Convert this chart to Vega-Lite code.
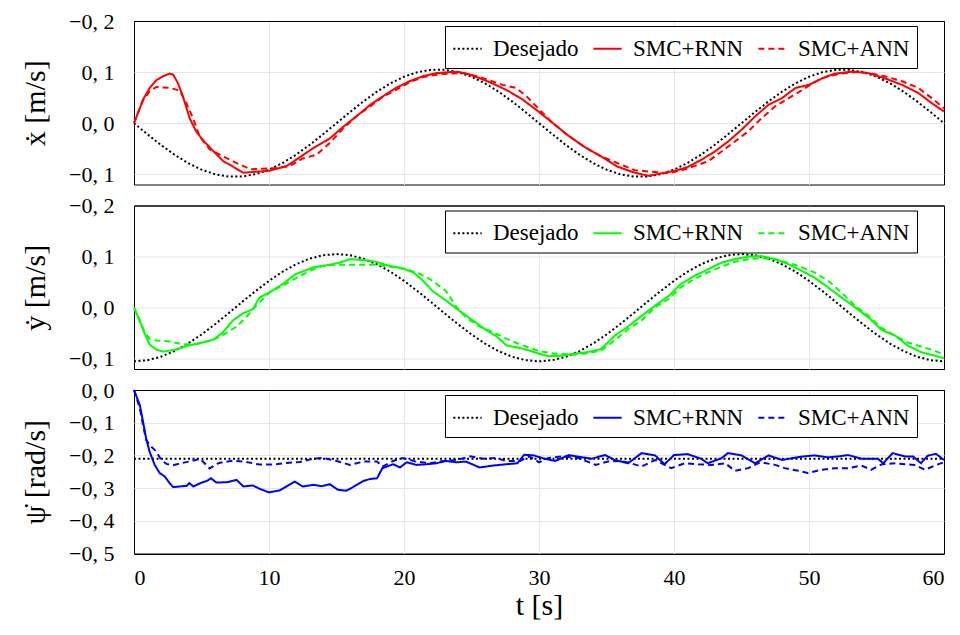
{
  "$schema": "https://vega.github.io/schema/vega-lite/v6.json",
  "padding": {"left": 20, "top": 9, "right": 4, "bottom": 8},
  "background": "#ffffff",
  "config": {
    "font": "Liberation Serif",
    "view": {"stroke": "#000000", "strokeWidth": 1},
    "axis": {"labelFont": "Liberation Serif", "labelFontSize": 22, "labelColor": "#000000", "titleFont": "Liberation Serif", "titleFontWeight": "normal", "titleColor": "#000000", "titleFontSize": 30, "gridColor": "#e6e6e6", "gridWidth": 1, "domain": false, "ticks": false},
    "line": {"strokeWidth": 2}
  },
  "datasets": {
    "vx": [
      {"t":0,"v":0,"s":"Desejado"},{"t":1,"v":-0.0218,"s":"Desejado"},{"t":2,"v":-0.0427,"s":"Desejado"},{"t":3,"v":-0.0617,"s":"Desejado"},{"t":4,"v":-0.078,"s":"Desejado"},{"t":5,"v":-0.0909,"s":"Desejado"},{"t":6,"v":-0.0999,"s":"Desejado"},{"t":7,"v":-0.1044,"s":"Desejado"},{"t":8,"v":-0.1044,"s":"Desejado"},{"t":9,"v":-0.0999,"s":"Desejado"},{"t":10,"v":-0.0909,"s":"Desejado"},{"t":11,"v":-0.078,"s":"Desejado"},{"t":12,"v":-0.0617,"s":"Desejado"},{"t":13,"v":-0.0427,"s":"Desejado"},{"t":14,"v":-0.0218,"s":"Desejado"},{"t":15,"v":0,"s":"Desejado"},{"t":16,"v":0.0218,"s":"Desejado"},{"t":17,"v":0.0427,"s":"Desejado"},{"t":18,"v":0.0617,"s":"Desejado"},{"t":19,"v":0.078,"s":"Desejado"},{"t":20,"v":0.0909,"s":"Desejado"},{"t":21,"v":0.0999,"s":"Desejado"},{"t":22,"v":0.1044,"s":"Desejado"},{"t":23,"v":0.1044,"s":"Desejado"},{"t":24,"v":0.0999,"s":"Desejado"},{"t":25,"v":0.0909,"s":"Desejado"},{"t":26,"v":0.078,"s":"Desejado"},{"t":27,"v":0.0617,"s":"Desejado"},{"t":28,"v":0.0427,"s":"Desejado"},{"t":29,"v":0.0218,"s":"Desejado"},{"t":30,"v":0,"s":"Desejado"},{"t":31,"v":-0.0218,"s":"Desejado"},{"t":32,"v":-0.0427,"s":"Desejado"},{"t":33,"v":-0.0617,"s":"Desejado"},{"t":34,"v":-0.078,"s":"Desejado"},{"t":35,"v":-0.0909,"s":"Desejado"},{"t":36,"v":-0.0999,"s":"Desejado"},{"t":37,"v":-0.1044,"s":"Desejado"},{"t":38,"v":-0.1044,"s":"Desejado"},{"t":39,"v":-0.0999,"s":"Desejado"},{"t":40,"v":-0.0909,"s":"Desejado"},{"t":41,"v":-0.078,"s":"Desejado"},{"t":42,"v":-0.0617,"s":"Desejado"},{"t":43,"v":-0.0427,"s":"Desejado"},{"t":44,"v":-0.0218,"s":"Desejado"},{"t":45,"v":0,"s":"Desejado"},{"t":46,"v":0.0218,"s":"Desejado"},{"t":47,"v":0.0427,"s":"Desejado"},{"t":48,"v":0.0617,"s":"Desejado"},{"t":49,"v":0.078,"s":"Desejado"},{"t":50,"v":0.0909,"s":"Desejado"},{"t":51,"v":0.0999,"s":"Desejado"},{"t":52,"v":0.1044,"s":"Desejado"},{"t":53,"v":0.1044,"s":"Desejado"},{"t":54,"v":0.0999,"s":"Desejado"},{"t":55,"v":0.0909,"s":"Desejado"},{"t":56,"v":0.078,"s":"Desejado"},{"t":57,"v":0.0617,"s":"Desejado"},{"t":58,"v":0.0427,"s":"Desejado"},{"t":59,"v":0.0218,"s":"Desejado"},{"t":60,"v":0,"s":"Desejado"},
      {"t":0,"v":0,"s":"SMC+RNN"},{"t":0.67,"v":0.046,"s":"SMC+RNN"},{"t":1.16,"v":0.069,"s":"SMC+RNN"},{"t":1.65,"v":0.084,"s":"SMC+RNN"},{"t":2.15,"v":0.092,"s":"SMC+RNN"},{"t":2.64,"v":0.097,"s":"SMC+RNN"},{"t":2.9,"v":0.095,"s":"SMC+RNN"},{"t":3.26,"v":0.078,"s":"SMC+RNN"},{"t":3.63,"v":0.052,"s":"SMC+RNN"},{"t":4.12,"v":0.01,"s":"SMC+RNN"},{"t":4.6,"v":-0.016,"s":"SMC+RNN"},{"t":5.1,"v":-0.033,"s":"SMC+RNN"},{"t":5.85,"v":-0.054,"s":"SMC+RNN"},{"t":6.6,"v":-0.074,"s":"SMC+RNN"},{"t":7.33,"v":-0.085,"s":"SMC+RNN"},{"t":8.07,"v":-0.097,"s":"SMC+RNN"},{"t":9.06,"v":-0.095,"s":"SMC+RNN"},{"t":10.05,"v":-0.093,"s":"SMC+RNN"},{"t":11.3,"v":-0.084,"s":"SMC+RNN"},{"t":12.27,"v":-0.067,"s":"SMC+RNN"},{"t":13.26,"v":-0.049,"s":"SMC+RNN"},{"t":14.5,"v":-0.03,"s":"SMC+RNN"},{"t":15.5,"v":-0.007,"s":"SMC+RNN"},{"t":16.5,"v":0.014,"s":"SMC+RNN"},{"t":17.5,"v":0.036,"s":"SMC+RNN"},{"t":18.4,"v":0.052,"s":"SMC+RNN"},{"t":19.4,"v":0.069,"s":"SMC+RNN"},{"t":20.4,"v":0.082,"s":"SMC+RNN"},{"t":21.4,"v":0.092,"s":"SMC+RNN"},{"t":22.4,"v":0.098,"s":"SMC+RNN"},{"t":23.4,"v":0.1,"s":"SMC+RNN"},{"t":24.1,"v":0.1,"s":"SMC+RNN"},{"t":24.9,"v":0.095,"s":"SMC+RNN"},{"t":25.9,"v":0.085,"s":"SMC+RNN"},{"t":26.8,"v":0.075,"s":"SMC+RNN"},{"t":27.8,"v":0.062,"s":"SMC+RNN"},{"t":28.8,"v":0.046,"s":"SMC+RNN"},{"t":29.8,"v":0.026,"s":"SMC+RNN"},{"t":30.9,"v":0.003,"s":"SMC+RNN"},{"t":32.1,"v":-0.023,"s":"SMC+RNN"},{"t":33.4,"v":-0.047,"s":"SMC+RNN"},{"t":34.6,"v":-0.065,"s":"SMC+RNN"},{"t":35.8,"v":-0.085,"s":"SMC+RNN"},{"t":37.1,"v":-0.097,"s":"SMC+RNN"},{"t":38.1,"v":-0.103,"s":"SMC+RNN"},{"t":39.1,"v":-0.098,"s":"SMC+RNN"},{"t":40.1,"v":-0.093,"s":"SMC+RNN"},{"t":41,"v":-0.086,"s":"SMC+RNN"},{"t":42,"v":-0.072,"s":"SMC+RNN"},{"t":43,"v":-0.056,"s":"SMC+RNN"},{"t":44,"v":-0.036,"s":"SMC+RNN"},{"t":45,"v":-0.013,"s":"SMC+RNN"},{"t":46,"v":0.013,"s":"SMC+RNN"},{"t":47,"v":0.036,"s":"SMC+RNN"},{"t":48,"v":0.049,"s":"SMC+RNN"},{"t":49,"v":0.069,"s":"SMC+RNN"},{"t":50,"v":0.075,"s":"SMC+RNN"},{"t":51,"v":0.088,"s":"SMC+RNN"},{"t":51.9,"v":0.097,"s":"SMC+RNN"},{"t":53.2,"v":0.101,"s":"SMC+RNN"},{"t":54.4,"v":0.098,"s":"SMC+RNN"},{"t":55.6,"v":0.088,"s":"SMC+RNN"},{"t":56.9,"v":0.075,"s":"SMC+RNN"},{"t":58.1,"v":0.059,"s":"SMC+RNN"},{"t":59.1,"v":0.039,"s":"SMC+RNN"},{"t":60,"v":0.023,"s":"SMC+RNN"},
      {"t":0,"v":0,"s":"SMC+ANN"},{"t":0.67,"v":0.045,"s":"SMC+ANN"},{"t":1.16,"v":0.062,"s":"SMC+ANN"},{"t":1.65,"v":0.071,"s":"SMC+ANN"},{"t":2.64,"v":0.069,"s":"SMC+ANN"},{"t":3.38,"v":0.064,"s":"SMC+ANN"},{"t":3.88,"v":0.039,"s":"SMC+ANN"},{"t":4.37,"v":0.01,"s":"SMC+ANN"},{"t":4.86,"v":-0.026,"s":"SMC+ANN"},{"t":5.6,"v":-0.051,"s":"SMC+ANN"},{"t":6.6,"v":-0.065,"s":"SMC+ANN"},{"t":7.6,"v":-0.078,"s":"SMC+ANN"},{"t":8.6,"v":-0.09,"s":"SMC+ANN"},{"t":9.56,"v":-0.089,"s":"SMC+ANN"},{"t":10.5,"v":-0.088,"s":"SMC+ANN"},{"t":11.5,"v":-0.084,"s":"SMC+ANN"},{"t":12.5,"v":-0.069,"s":"SMC+ANN"},{"t":13.5,"v":-0.062,"s":"SMC+ANN"},{"t":14.5,"v":-0.039,"s":"SMC+ANN"},{"t":15.5,"v":-0.01,"s":"SMC+ANN"},{"t":16.5,"v":0.014,"s":"SMC+ANN"},{"t":17.5,"v":0.033,"s":"SMC+ANN"},{"t":18.4,"v":0.051,"s":"SMC+ANN"},{"t":19.4,"v":0.065,"s":"SMC+ANN"},{"t":20.4,"v":0.08,"s":"SMC+ANN"},{"t":21.4,"v":0.09,"s":"SMC+ANN"},{"t":22.4,"v":0.095,"s":"SMC+ANN"},{"t":23.4,"v":0.097,"s":"SMC+ANN"},{"t":24.4,"v":0.098,"s":"SMC+ANN"},{"t":25.4,"v":0.092,"s":"SMC+ANN"},{"t":26.3,"v":0.084,"s":"SMC+ANN"},{"t":27.3,"v":0.075,"s":"SMC+ANN"},{"t":28.3,"v":0.069,"s":"SMC+ANN"},{"t":29.1,"v":0.052,"s":"SMC+ANN"},{"t":29.8,"v":0.033,"s":"SMC+ANN"},{"t":30.9,"v":0.003,"s":"SMC+ANN"},{"t":32.1,"v":-0.023,"s":"SMC+ANN"},{"t":33.4,"v":-0.047,"s":"SMC+ANN"},{"t":34.6,"v":-0.065,"s":"SMC+ANN"},{"t":35.8,"v":-0.078,"s":"SMC+ANN"},{"t":37.1,"v":-0.092,"s":"SMC+ANN"},{"t":38.3,"v":-0.095,"s":"SMC+ANN"},{"t":39.6,"v":-0.098,"s":"SMC+ANN"},{"t":40.6,"v":-0.092,"s":"SMC+ANN"},{"t":41.5,"v":-0.084,"s":"SMC+ANN"},{"t":42.5,"v":-0.075,"s":"SMC+ANN"},{"t":43.5,"v":-0.056,"s":"SMC+ANN"},{"t":44.5,"v":-0.036,"s":"SMC+ANN"},{"t":45.5,"v":-0.016,"s":"SMC+ANN"},{"t":46.5,"v":0.01,"s":"SMC+ANN"},{"t":47.5,"v":0.033,"s":"SMC+ANN"},{"t":48.5,"v":0.049,"s":"SMC+ANN"},{"t":49.5,"v":0.065,"s":"SMC+ANN"},{"t":50.5,"v":0.082,"s":"SMC+ANN"},{"t":51.4,"v":0.092,"s":"SMC+ANN"},{"t":52.4,"v":0.097,"s":"SMC+ANN"},{"t":53.4,"v":0.1,"s":"SMC+ANN"},{"t":54.4,"v":0.098,"s":"SMC+ANN"},{"t":55.6,"v":0.092,"s":"SMC+ANN"},{"t":56.9,"v":0.082,"s":"SMC+ANN"},{"t":58.1,"v":0.069,"s":"SMC+ANN"},{"t":59.1,"v":0.049,"s":"SMC+ANN"},{"t":60,"v":0.029,"s":"SMC+ANN"}
    ],
    "vy": [
      {"t":0,"v":-0.105,"s":"Desejado"},{"t":1,"v":-0.1027,"s":"Desejado"},{"t":2,"v":-0.0959,"s":"Desejado"},{"t":3,"v":-0.0849,"s":"Desejado"},{"t":4,"v":-0.0703,"s":"Desejado"},{"t":5,"v":-0.0525,"s":"Desejado"},{"t":6,"v":-0.0324,"s":"Desejado"},{"t":7,"v":-0.011,"s":"Desejado"},{"t":8,"v":0.011,"s":"Desejado"},{"t":9,"v":0.0324,"s":"Desejado"},{"t":10,"v":0.0525,"s":"Desejado"},{"t":11,"v":0.0703,"s":"Desejado"},{"t":12,"v":0.0849,"s":"Desejado"},{"t":13,"v":0.0959,"s":"Desejado"},{"t":14,"v":0.1027,"s":"Desejado"},{"t":15,"v":0.105,"s":"Desejado"},{"t":16,"v":0.1027,"s":"Desejado"},{"t":17,"v":0.0959,"s":"Desejado"},{"t":18,"v":0.0849,"s":"Desejado"},{"t":19,"v":0.0703,"s":"Desejado"},{"t":20,"v":0.0525,"s":"Desejado"},{"t":21,"v":0.0324,"s":"Desejado"},{"t":22,"v":0.011,"s":"Desejado"},{"t":23,"v":-0.011,"s":"Desejado"},{"t":24,"v":-0.0324,"s":"Desejado"},{"t":25,"v":-0.0525,"s":"Desejado"},{"t":26,"v":-0.0703,"s":"Desejado"},{"t":27,"v":-0.0849,"s":"Desejado"},{"t":28,"v":-0.0959,"s":"Desejado"},{"t":29,"v":-0.1027,"s":"Desejado"},{"t":30,"v":-0.105,"s":"Desejado"},{"t":31,"v":-0.1027,"s":"Desejado"},{"t":32,"v":-0.0959,"s":"Desejado"},{"t":33,"v":-0.0849,"s":"Desejado"},{"t":34,"v":-0.0703,"s":"Desejado"},{"t":35,"v":-0.0525,"s":"Desejado"},{"t":36,"v":-0.0324,"s":"Desejado"},{"t":37,"v":-0.011,"s":"Desejado"},{"t":38,"v":0.011,"s":"Desejado"},{"t":39,"v":0.0324,"s":"Desejado"},{"t":40,"v":0.0525,"s":"Desejado"},{"t":41,"v":0.0703,"s":"Desejado"},{"t":42,"v":0.0849,"s":"Desejado"},{"t":43,"v":0.0959,"s":"Desejado"},{"t":44,"v":0.1027,"s":"Desejado"},{"t":45,"v":0.105,"s":"Desejado"},{"t":46,"v":0.1027,"s":"Desejado"},{"t":47,"v":0.0959,"s":"Desejado"},{"t":48,"v":0.0849,"s":"Desejado"},{"t":49,"v":0.0703,"s":"Desejado"},{"t":50,"v":0.0525,"s":"Desejado"},{"t":51,"v":0.0324,"s":"Desejado"},{"t":52,"v":0.011,"s":"Desejado"},{"t":53,"v":-0.011,"s":"Desejado"},{"t":54,"v":-0.0324,"s":"Desejado"},{"t":55,"v":-0.0525,"s":"Desejado"},{"t":56,"v":-0.0703,"s":"Desejado"},{"t":57,"v":-0.0849,"s":"Desejado"},{"t":58,"v":-0.0959,"s":"Desejado"},{"t":59,"v":-0.1027,"s":"Desejado"},{"t":60,"v":-0.105,"s":"Desejado"},
      {"t":0,"v":0,"s":"SMC+RNN"},{"t":0.42,"v":-0.025,"s":"SMC+RNN"},{"t":0.79,"v":-0.051,"s":"SMC+RNN"},{"t":1.16,"v":-0.072,"s":"SMC+RNN"},{"t":1.65,"v":-0.082,"s":"SMC+RNN"},{"t":2.15,"v":-0.086,"s":"SMC+RNN"},{"t":2.64,"v":-0.084,"s":"SMC+RNN"},{"t":3.14,"v":-0.082,"s":"SMC+RNN"},{"t":3.88,"v":-0.075,"s":"SMC+RNN"},{"t":4.62,"v":-0.071,"s":"SMC+RNN"},{"t":5.85,"v":-0.063,"s":"SMC+RNN"},{"t":6.6,"v":-0.048,"s":"SMC+RNN"},{"t":7.33,"v":-0.025,"s":"SMC+RNN"},{"t":8.07,"v":-0.011,"s":"SMC+RNN"},{"t":8.8,"v":-0.003,"s":"SMC+RNN"},{"t":9.3,"v":0.02,"s":"SMC+RNN"},{"t":10.05,"v":0.03,"s":"SMC+RNN"},{"t":11,"v":0.046,"s":"SMC+RNN"},{"t":12,"v":0.066,"s":"SMC+RNN"},{"t":13.3,"v":0.079,"s":"SMC+RNN"},{"t":14.5,"v":0.084,"s":"SMC+RNN"},{"t":15.2,"v":0.088,"s":"SMC+RNN"},{"t":16,"v":0.095,"s":"SMC+RNN"},{"t":17,"v":0.093,"s":"SMC+RNN"},{"t":17.9,"v":0.09,"s":"SMC+RNN"},{"t":18.9,"v":0.082,"s":"SMC+RNN"},{"t":19.9,"v":0.077,"s":"SMC+RNN"},{"t":20.7,"v":0.069,"s":"SMC+RNN"},{"t":21.4,"v":0.053,"s":"SMC+RNN"},{"t":22.1,"v":0.033,"s":"SMC+RNN"},{"t":23.1,"v":0.014,"s":"SMC+RNN"},{"t":24.1,"v":-0.006,"s":"SMC+RNN"},{"t":25.1,"v":-0.025,"s":"SMC+RNN"},{"t":26.1,"v":-0.044,"s":"SMC+RNN"},{"t":26.8,"v":-0.055,"s":"SMC+RNN"},{"t":27.6,"v":-0.074,"s":"SMC+RNN"},{"t":28.6,"v":-0.079,"s":"SMC+RNN"},{"t":29.3,"v":-0.084,"s":"SMC+RNN"},{"t":30,"v":-0.09,"s":"SMC+RNN"},{"t":30.7,"v":-0.095,"s":"SMC+RNN"},{"t":31.7,"v":-0.094,"s":"SMC+RNN"},{"t":32.6,"v":-0.09,"s":"SMC+RNN"},{"t":33.6,"v":-0.087,"s":"SMC+RNN"},{"t":34.6,"v":-0.081,"s":"SMC+RNN"},{"t":35.6,"v":-0.055,"s":"SMC+RNN"},{"t":36.6,"v":-0.037,"s":"SMC+RNN"},{"t":37.6,"v":-0.016,"s":"SMC+RNN"},{"t":38.6,"v":0.004,"s":"SMC+RNN"},{"t":39.6,"v":0.023,"s":"SMC+RNN"},{"t":40.5,"v":0.046,"s":"SMC+RNN"},{"t":41.5,"v":0.062,"s":"SMC+RNN"},{"t":42.5,"v":0.075,"s":"SMC+RNN"},{"t":43.5,"v":0.088,"s":"SMC+RNN"},{"t":44.5,"v":0.095,"s":"SMC+RNN"},{"t":45.5,"v":0.1,"s":"SMC+RNN"},{"t":46.5,"v":0.101,"s":"SMC+RNN"},{"t":47.5,"v":0.095,"s":"SMC+RNN"},{"t":48.4,"v":0.086,"s":"SMC+RNN"},{"t":49.4,"v":0.073,"s":"SMC+RNN"},{"t":50.4,"v":0.059,"s":"SMC+RNN"},{"t":51.4,"v":0.04,"s":"SMC+RNN"},{"t":52.4,"v":0.02,"s":"SMC+RNN"},{"t":53.4,"v":0.001,"s":"SMC+RNN"},{"t":54.4,"v":-0.019,"s":"SMC+RNN"},{"t":55.4,"v":-0.044,"s":"SMC+RNN"},{"t":56.4,"v":-0.055,"s":"SMC+RNN"},{"t":57.3,"v":-0.074,"s":"SMC+RNN"},{"t":58.3,"v":-0.087,"s":"SMC+RNN"},{"t":59.3,"v":-0.094,"s":"SMC+RNN"},{"t":60,"v":-0.099,"s":"SMC+RNN"},
      {"t":0,"v":0,"s":"SMC+ANN"},{"t":0.42,"v":-0.025,"s":"SMC+ANN"},{"t":0.79,"v":-0.048,"s":"SMC+ANN"},{"t":1.16,"v":-0.061,"s":"SMC+ANN"},{"t":1.65,"v":-0.064,"s":"SMC+ANN"},{"t":2.64,"v":-0.066,"s":"SMC+ANN"},{"t":3.63,"v":-0.072,"s":"SMC+ANN"},{"t":4.62,"v":-0.071,"s":"SMC+ANN"},{"t":5.85,"v":-0.063,"s":"SMC+ANN"},{"t":6.6,"v":-0.053,"s":"SMC+ANN"},{"t":7.6,"v":-0.037,"s":"SMC+ANN"},{"t":8.3,"v":-0.019,"s":"SMC+ANN"},{"t":9.06,"v":0.004,"s":"SMC+ANN"},{"t":10.05,"v":0.03,"s":"SMC+ANN"},{"t":11,"v":0.043,"s":"SMC+ANN"},{"t":12,"v":0.058,"s":"SMC+ANN"},{"t":13,"v":0.072,"s":"SMC+ANN"},{"t":14,"v":0.082,"s":"SMC+ANN"},{"t":15,"v":0.084,"s":"SMC+ANN"},{"t":16,"v":0.084,"s":"SMC+ANN"},{"t":17,"v":0.084,"s":"SMC+ANN"},{"t":18,"v":0.084,"s":"SMC+ANN"},{"t":19,"v":0.08,"s":"SMC+ANN"},{"t":20.2,"v":0.075,"s":"SMC+ANN"},{"t":21.2,"v":0.066,"s":"SMC+ANN"},{"t":22.1,"v":0.053,"s":"SMC+ANN"},{"t":23.1,"v":0.033,"s":"SMC+ANN"},{"t":23.9,"v":0.001,"s":"SMC+ANN"},{"t":24.6,"v":-0.019,"s":"SMC+ANN"},{"t":25.6,"v":-0.037,"s":"SMC+ANN"},{"t":26.6,"v":-0.048,"s":"SMC+ANN"},{"t":27.6,"v":-0.061,"s":"SMC+ANN"},{"t":28.6,"v":-0.072,"s":"SMC+ANN"},{"t":29.3,"v":-0.078,"s":"SMC+ANN"},{"t":30,"v":-0.085,"s":"SMC+ANN"},{"t":31.2,"v":-0.09,"s":"SMC+ANN"},{"t":32.6,"v":-0.092,"s":"SMC+ANN"},{"t":33.6,"v":-0.089,"s":"SMC+ANN"},{"t":34.6,"v":-0.084,"s":"SMC+ANN"},{"t":35.6,"v":-0.064,"s":"SMC+ANN"},{"t":36.6,"v":-0.042,"s":"SMC+ANN"},{"t":37.6,"v":-0.025,"s":"SMC+ANN"},{"t":38.6,"v":0.001,"s":"SMC+ANN"},{"t":39.6,"v":0.017,"s":"SMC+ANN"},{"t":40.5,"v":0.04,"s":"SMC+ANN"},{"t":41.5,"v":0.056,"s":"SMC+ANN"},{"t":42.5,"v":0.069,"s":"SMC+ANN"},{"t":43.5,"v":0.08,"s":"SMC+ANN"},{"t":44.5,"v":0.09,"s":"SMC+ANN"},{"t":45.5,"v":0.095,"s":"SMC+ANN"},{"t":46.5,"v":0.097,"s":"SMC+ANN"},{"t":47.5,"v":0.095,"s":"SMC+ANN"},{"t":48.4,"v":0.088,"s":"SMC+ANN"},{"t":49.4,"v":0.08,"s":"SMC+ANN"},{"t":50.4,"v":0.069,"s":"SMC+ANN"},{"t":51.4,"v":0.053,"s":"SMC+ANN"},{"t":52.4,"v":0.03,"s":"SMC+ANN"},{"t":53.4,"v":0.004,"s":"SMC+ANN"},{"t":54.4,"v":-0.016,"s":"SMC+ANN"},{"t":55.4,"v":-0.04,"s":"SMC+ANN"},{"t":56.4,"v":-0.055,"s":"SMC+ANN"},{"t":57.3,"v":-0.068,"s":"SMC+ANN"},{"t":58.3,"v":-0.076,"s":"SMC+ANN"},{"t":59.3,"v":-0.084,"s":"SMC+ANN"},{"t":60,"v":-0.092,"s":"SMC+ANN"}
    ],
    "vpsi": [
      {"t":0,"v":-0.21,"s":"Desejado"},{"t":30,"v":-0.21,"s":"Desejado"},{"t":60,"v":-0.21,"s":"Desejado"},
      {"t":0,"v":0,"s":"SMC+RNN"},{"t":0.43,"v":-0.046,"s":"SMC+RNN"},{"t":0.67,"v":-0.097,"s":"SMC+RNN"},{"t":0.9,"v":-0.148,"s":"SMC+RNN"},{"t":1.15,"v":-0.188,"s":"SMC+RNN"},{"t":1.53,"v":-0.229,"s":"SMC+RNN"},{"t":1.9,"v":-0.254,"s":"SMC+RNN"},{"t":2.27,"v":-0.264,"s":"SMC+RNN"},{"t":2.64,"v":-0.285,"s":"SMC+RNN"},{"t":2.9,"v":-0.297,"s":"SMC+RNN"},{"t":3.4,"v":-0.295,"s":"SMC+RNN"},{"t":3.9,"v":-0.293,"s":"SMC+RNN"},{"t":4.1,"v":-0.285,"s":"SMC+RNN"},{"t":4.4,"v":-0.295,"s":"SMC+RNN"},{"t":4.9,"v":-0.285,"s":"SMC+RNN"},{"t":5.4,"v":-0.278,"s":"SMC+RNN"},{"t":5.7,"v":-0.27,"s":"SMC+RNN"},{"t":6.1,"v":-0.283,"s":"SMC+RNN"},{"t":6.9,"v":-0.282,"s":"SMC+RNN"},{"t":7.6,"v":-0.275,"s":"SMC+RNN"},{"t":8.1,"v":-0.295,"s":"SMC+RNN"},{"t":8.8,"v":-0.292,"s":"SMC+RNN"},{"t":9.3,"v":-0.302,"s":"SMC+RNN"},{"t":10,"v":-0.313,"s":"SMC+RNN"},{"t":10.8,"v":-0.307,"s":"SMC+RNN"},{"t":11.3,"v":-0.295,"s":"SMC+RNN"},{"t":11.9,"v":-0.28,"s":"SMC+RNN"},{"t":12.5,"v":-0.295,"s":"SMC+RNN"},{"t":13.3,"v":-0.29,"s":"SMC+RNN"},{"t":13.9,"v":-0.294,"s":"SMC+RNN"},{"t":14.5,"v":-0.288,"s":"SMC+RNN"},{"t":15.1,"v":-0.305,"s":"SMC+RNN"},{"t":15.7,"v":-0.308,"s":"SMC+RNN"},{"t":16.1,"v":-0.3,"s":"SMC+RNN"},{"t":17,"v":-0.278,"s":"SMC+RNN"},{"t":17.5,"v":-0.272,"s":"SMC+RNN"},{"t":18,"v":-0.27,"s":"SMC+RNN"},{"t":18.4,"v":-0.239,"s":"SMC+RNN"},{"t":19.2,"v":-0.227,"s":"SMC+RNN"},{"t":19.7,"v":-0.237,"s":"SMC+RNN"},{"t":20.2,"v":-0.221,"s":"SMC+RNN"},{"t":20.9,"v":-0.229,"s":"SMC+RNN"},{"t":21.7,"v":-0.227,"s":"SMC+RNN"},{"t":22.4,"v":-0.224,"s":"SMC+RNN"},{"t":23.1,"v":-0.217,"s":"SMC+RNN"},{"t":23.9,"v":-0.221,"s":"SMC+RNN"},{"t":24.6,"v":-0.219,"s":"SMC+RNN"},{"t":25.6,"v":-0.237,"s":"SMC+RNN"},{"t":26.6,"v":-0.231,"s":"SMC+RNN"},{"t":27.6,"v":-0.227,"s":"SMC+RNN"},{"t":28.4,"v":-0.224,"s":"SMC+RNN"},{"t":28.9,"v":-0.198,"s":"SMC+RNN"},{"t":29.6,"v":-0.2,"s":"SMC+RNN"},{"t":30.4,"v":-0.21,"s":"SMC+RNN"},{"t":31.2,"v":-0.217,"s":"SMC+RNN"},{"t":32.2,"v":-0.199,"s":"SMC+RNN"},{"t":32.9,"v":-0.204,"s":"SMC+RNN"},{"t":33.9,"v":-0.21,"s":"SMC+RNN"},{"t":34.9,"v":-0.199,"s":"SMC+RNN"},{"t":35.6,"v":-0.214,"s":"SMC+RNN"},{"t":36.6,"v":-0.224,"s":"SMC+RNN"},{"t":37.6,"v":-0.193,"s":"SMC+RNN"},{"t":38.6,"v":-0.2,"s":"SMC+RNN"},{"t":39.3,"v":-0.227,"s":"SMC+RNN"},{"t":40,"v":-0.199,"s":"SMC+RNN"},{"t":41,"v":-0.196,"s":"SMC+RNN"},{"t":42,"v":-0.21,"s":"SMC+RNN"},{"t":42.5,"v":-0.224,"s":"SMC+RNN"},{"t":43.5,"v":-0.209,"s":"SMC+RNN"},{"t":44,"v":-0.193,"s":"SMC+RNN"},{"t":45,"v":-0.2,"s":"SMC+RNN"},{"t":46,"v":-0.224,"s":"SMC+RNN"},{"t":47,"v":-0.2,"s":"SMC+RNN"},{"t":48,"v":-0.214,"s":"SMC+RNN"},{"t":49.4,"v":-0.204,"s":"SMC+RNN"},{"t":50.4,"v":-0.2,"s":"SMC+RNN"},{"t":51.4,"v":-0.206,"s":"SMC+RNN"},{"t":52.2,"v":-0.203,"s":"SMC+RNN"},{"t":52.9,"v":-0.199,"s":"SMC+RNN"},{"t":53.9,"v":-0.21,"s":"SMC+RNN"},{"t":55.1,"v":-0.21,"s":"SMC+RNN"},{"t":55.5,"v":-0.224,"s":"SMC+RNN"},{"t":56.2,"v":-0.193,"s":"SMC+RNN"},{"t":57.1,"v":-0.203,"s":"SMC+RNN"},{"t":57.7,"v":-0.203,"s":"SMC+RNN"},{"t":58.3,"v":-0.224,"s":"SMC+RNN"},{"t":58.8,"v":-0.201,"s":"SMC+RNN"},{"t":59.4,"v":-0.195,"s":"SMC+RNN"},{"t":60,"v":-0.214,"s":"SMC+RNN"},
      {"t":0,"v":0,"s":"SMC+ANN"},{"t":0.43,"v":-0.056,"s":"SMC+ANN"},{"t":0.67,"v":-0.107,"s":"SMC+ANN"},{"t":0.9,"v":-0.153,"s":"SMC+ANN"},{"t":1.27,"v":-0.173,"s":"SMC+ANN"},{"t":1.65,"v":-0.188,"s":"SMC+ANN"},{"t":2,"v":-0.213,"s":"SMC+ANN"},{"t":2.4,"v":-0.226,"s":"SMC+ANN"},{"t":2.9,"v":-0.23,"s":"SMC+ANN"},{"t":3.6,"v":-0.223,"s":"SMC+ANN"},{"t":4.4,"v":-0.216,"s":"SMC+ANN"},{"t":4.9,"v":-0.21,"s":"SMC+ANN"},{"t":5.6,"v":-0.24,"s":"SMC+ANN"},{"t":6.3,"v":-0.223,"s":"SMC+ANN"},{"t":7.3,"v":-0.216,"s":"SMC+ANN"},{"t":8.3,"v":-0.22,"s":"SMC+ANN"},{"t":9.3,"v":-0.228,"s":"SMC+ANN"},{"t":10.3,"v":-0.228,"s":"SMC+ANN"},{"t":11.3,"v":-0.223,"s":"SMC+ANN"},{"t":12.3,"v":-0.22,"s":"SMC+ANN"},{"t":13.3,"v":-0.21,"s":"SMC+ANN"},{"t":14,"v":-0.208,"s":"SMC+ANN"},{"t":15,"v":-0.217,"s":"SMC+ANN"},{"t":16,"v":-0.229,"s":"SMC+ANN"},{"t":17,"v":-0.219,"s":"SMC+ANN"},{"t":18,"v":-0.219,"s":"SMC+ANN"},{"t":18.4,"v":-0.234,"s":"SMC+ANN"},{"t":19.2,"v":-0.217,"s":"SMC+ANN"},{"t":19.9,"v":-0.208,"s":"SMC+ANN"},{"t":20.9,"v":-0.219,"s":"SMC+ANN"},{"t":21.9,"v":-0.224,"s":"SMC+ANN"},{"t":22.9,"v":-0.217,"s":"SMC+ANN"},{"t":23.9,"v":-0.214,"s":"SMC+ANN"},{"t":24.9,"v":-0.203,"s":"SMC+ANN"},{"t":25.9,"v":-0.21,"s":"SMC+ANN"},{"t":26.8,"v":-0.208,"s":"SMC+ANN"},{"t":27.6,"v":-0.217,"s":"SMC+ANN"},{"t":28.6,"v":-0.217,"s":"SMC+ANN"},{"t":29.3,"v":-0.203,"s":"SMC+ANN"},{"t":30,"v":-0.221,"s":"SMC+ANN"},{"t":30.7,"v":-0.208,"s":"SMC+ANN"},{"t":31.7,"v":-0.203,"s":"SMC+ANN"},{"t":32.9,"v":-0.208,"s":"SMC+ANN"},{"t":34.2,"v":-0.229,"s":"SMC+ANN"},{"t":35.1,"v":-0.219,"s":"SMC+ANN"},{"t":36.1,"v":-0.217,"s":"SMC+ANN"},{"t":36.8,"v":-0.224,"s":"SMC+ANN"},{"t":37.6,"v":-0.234,"s":"SMC+ANN"},{"t":38.6,"v":-0.214,"s":"SMC+ANN"},{"t":39.8,"v":-0.239,"s":"SMC+ANN"},{"t":40.8,"v":-0.224,"s":"SMC+ANN"},{"t":41.8,"v":-0.227,"s":"SMC+ANN"},{"t":42.8,"v":-0.229,"s":"SMC+ANN"},{"t":43.8,"v":-0.224,"s":"SMC+ANN"},{"t":44.5,"v":-0.247,"s":"SMC+ANN"},{"t":45.5,"v":-0.239,"s":"SMC+ANN"},{"t":46.4,"v":-0.221,"s":"SMC+ANN"},{"t":47.5,"v":-0.229,"s":"SMC+ANN"},{"t":48.2,"v":-0.239,"s":"SMC+ANN"},{"t":49.2,"v":-0.247,"s":"SMC+ANN"},{"t":49.9,"v":-0.254,"s":"SMC+ANN"},{"t":50.9,"v":-0.244,"s":"SMC+ANN"},{"t":51.9,"v":-0.239,"s":"SMC+ANN"},{"t":52.9,"v":-0.239,"s":"SMC+ANN"},{"t":53.9,"v":-0.231,"s":"SMC+ANN"},{"t":54.6,"v":-0.244,"s":"SMC+ANN"},{"t":55.4,"v":-0.227,"s":"SMC+ANN"},{"t":56.4,"v":-0.224,"s":"SMC+ANN"},{"t":57.1,"v":-0.227,"s":"SMC+ANN"},{"t":57.8,"v":-0.229,"s":"SMC+ANN"},{"t":58.6,"v":-0.244,"s":"SMC+ANN"},{"t":59.3,"v":-0.231,"s":"SMC+ANN"},{"t":60,"v":-0.221,"s":"SMC+ANN"}
    ]
  },
  "spacing": 20.5,
  "bounds": "flush",
  "vconcat": [
    {
      "width": 810, "height": 163.5,
      "view": {"stroke": "#000000", "strokeWidth": 1},
      "data": {"name": "vx"},
      "mark": {"type": "line", "strokeWidth": 2},
      "encoding": {
        "x": {"field": "t", "type": "quantitative", "scale": {"domain": [0, 60], "nice": false}, "axis": {"values": [0, 10, 20, 30, 40, 50, 60], "labels": false, "domain": false, "title": null, "gridColor": {"condition": {"test": "datum.value <= 0 || datum.value >= 60", "value": "#000000"}, "value": "#e6e6e6"}}},
        "y": {"field": "v", "type": "quantitative", "scale": {"domain": [-0.12, 0.2], "nice": false, "zero": false}, "axis": {"values": [-0.1, 0, 0.1, 0.2], "domain": false, "labelExpr": "datum.value > 0.15 ? '−0, 2' : replace(format(datum.value, '.1f'), '.', ', ')", "title": "ẋ [m/s]", "labelPadding": 20, "titlePadding": 18, "gridColor": {"condition": {"test": "datum.value >= 0.15", "value": "#000000"}, "value": "#e6e6e6"}}},
        "color": {"field": "s", "type": "nominal", "scale": {"domain": ["Desejado", "SMC+RNN", "SMC+ANN"], "range": ["#000000", "#ff0000", "#ff0000"]}, "legend": {"title": null, "orient": "none", "legendX": 311, "legendY": 5, "direction": "horizontal", "symbolType": "stroke", "symbolSize": 800, "symbolStrokeWidth": 2, "labelFontSize": 23, "labelFont": "Liberation Serif", "labelColor": "#000000", "strokeColor": "#000000", "fillColor": "#ffffff", "padding": 7, "columnPadding": 10, "labelOffset": 10, "labelLimit": 0}},
        "strokeDash": {"field": "s", "type": "nominal", "scale": {"domain": ["Desejado", "SMC+RNN", "SMC+ANN"], "range": [[2, 2.5], [1, 0], [6, 4]]}, "legend": {"title": null, "orient": "none", "legendX": 311, "legendY": 5, "direction": "horizontal", "symbolType": "stroke", "symbolSize": 800, "symbolStrokeWidth": 2, "labelFontSize": 23, "labelFont": "Liberation Serif", "labelColor": "#000000", "strokeColor": "#000000", "fillColor": "#ffffff", "padding": 7, "columnPadding": 10, "labelOffset": 10, "labelLimit": 0}}
      }
    },
    {
      "width": 810, "height": 163.5,
      "view": {"stroke": "#000000", "strokeWidth": 1},
      "data": {"name": "vy"},
      "mark": {"type": "line", "strokeWidth": 2},
      "encoding": {
        "x": {"field": "t", "type": "quantitative", "scale": {"domain": [0, 60], "nice": false}, "axis": {"values": [0, 10, 20, 30, 40, 50, 60], "labels": false, "domain": false, "title": null, "gridColor": {"condition": {"test": "datum.value <= 0 || datum.value >= 60", "value": "#000000"}, "value": "#e6e6e6"}}},
        "y": {"field": "v", "type": "quantitative", "scale": {"domain": [-0.12, 0.2], "nice": false, "zero": false}, "axis": {"values": [-0.1, 0, 0.1, 0.2], "domain": false, "labelExpr": "datum.value > 0.15 ? '−0, 2' : replace(format(datum.value, '.1f'), '.', ', ')", "title": "ẏ [m/s]", "labelPadding": 20, "titlePadding": 18, "gridColor": {"condition": {"test": "datum.value >= 0.15", "value": "#000000"}, "value": "#e6e6e6"}}},
        "color": {"field": "s", "type": "nominal", "scale": {"domain": ["Desejado", "SMC+RNN", "SMC+ANN"], "range": ["#000000", "#00ff00", "#00ff00"]}, "legend": {"title": null, "orient": "none", "legendX": 311, "legendY": 5, "direction": "horizontal", "symbolType": "stroke", "symbolSize": 800, "symbolStrokeWidth": 2, "labelFontSize": 23, "labelFont": "Liberation Serif", "labelColor": "#000000", "strokeColor": "#000000", "fillColor": "#ffffff", "padding": 7, "columnPadding": 10, "labelOffset": 10, "labelLimit": 0}},
        "strokeDash": {"field": "s", "type": "nominal", "scale": {"domain": ["Desejado", "SMC+RNN", "SMC+ANN"], "range": [[2, 2.5], [1, 0], [6, 4]]}, "legend": {"title": null, "orient": "none", "legendX": 311, "legendY": 5, "direction": "horizontal", "symbolType": "stroke", "symbolSize": 800, "symbolStrokeWidth": 2, "labelFontSize": 23, "labelFont": "Liberation Serif", "labelColor": "#000000", "strokeColor": "#000000", "fillColor": "#ffffff", "padding": 7, "columnPadding": 10, "labelOffset": 10, "labelLimit": 0}}
      }
    },
    {
      "width": 810, "height": 163.5,
      "view": {"stroke": "#000000", "strokeWidth": 1},
      "data": {"name": "vpsi"},
      "mark": {"type": "line", "strokeWidth": 2},
      "encoding": {
        "x": {"field": "t", "type": "quantitative", "scale": {"domain": [0, 60], "nice": false}, "axis": {"values": [0, 10, 20, 30, 40, 50, 60], "domain": false, "format": "d", "title": "t [s]", "labelPadding": 14, "titlePadding": 2, "gridColor": {"condition": {"test": "datum.value <= 0 || datum.value >= 60", "value": "#000000"}, "value": "#e6e6e6"}}},
        "y": {"field": "v", "type": "quantitative", "scale": {"domain": [-0.5, 0], "nice": false, "zero": false}, "axis": {"values": [-0.5, -0.4, -0.3, -0.2, -0.1, 0], "domain": false, "labelExpr": "replace(format(datum.value, '.1f'), '.', ', ')", "title": "ψ̇ [rad/s]", "labelPadding": 20, "titlePadding": 18, "gridColor": {"condition": {"test": "datum.value <= -0.45 || datum.value >= -0.05", "value": "#000000"}, "value": "#e6e6e6"}}},
        "color": {"field": "s", "type": "nominal", "scale": {"domain": ["Desejado", "SMC+RNN", "SMC+ANN"], "range": ["#000000", "#0000ff", "#0000ff"]}, "legend": {"title": null, "orient": "none", "legendX": 311, "legendY": 5, "direction": "horizontal", "symbolType": "stroke", "symbolSize": 800, "symbolStrokeWidth": 2, "labelFontSize": 23, "labelFont": "Liberation Serif", "labelColor": "#000000", "strokeColor": "#000000", "fillColor": "#ffffff", "padding": 7, "columnPadding": 10, "labelOffset": 10, "labelLimit": 0}},
        "strokeDash": {"field": "s", "type": "nominal", "scale": {"domain": ["Desejado", "SMC+RNN", "SMC+ANN"], "range": [[2, 2.5], [1, 0], [6, 4]]}, "legend": {"title": null, "orient": "none", "legendX": 311, "legendY": 5, "direction": "horizontal", "symbolType": "stroke", "symbolSize": 800, "symbolStrokeWidth": 2, "labelFontSize": 23, "labelFont": "Liberation Serif", "labelColor": "#000000", "strokeColor": "#000000", "fillColor": "#ffffff", "padding": 7, "columnPadding": 10, "labelOffset": 10, "labelLimit": 0}}
      }
    }
  ],
  "resolve": {"scale": {"color": "independent", "strokeDash": "independent", "y": "independent"}, "legend": {"color": "independent", "strokeDash": "independent"}}
}
